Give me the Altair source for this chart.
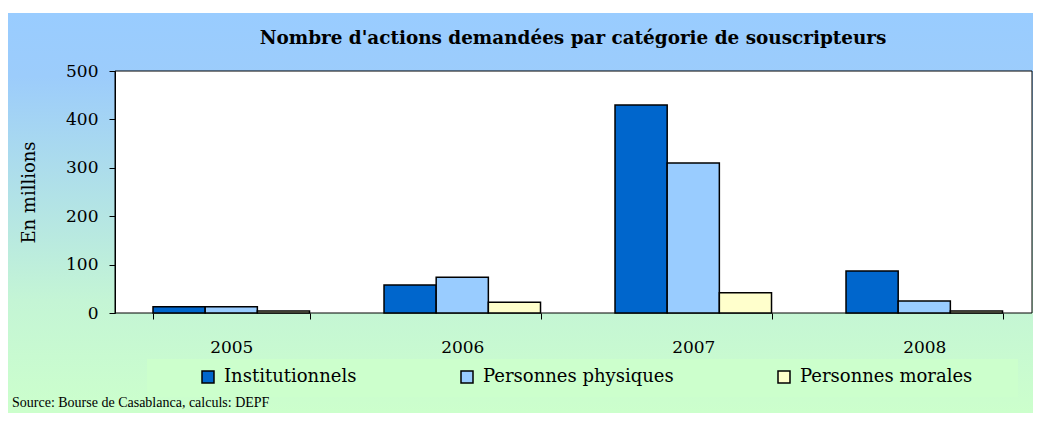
import altair as alt
import pandas as pd

# ---- data ----
years = ["2005", "2006", "2007", "2008"]
categories = ["Institutionnels", "Personnes physiques", "Personnes morales"]
institutionnels = [13, 58, 430, 87]
physiques = [13, 74, 310, 25]
morales = [4, 22, 42, 4]
colors = ["#0066CC", "#99CCFF", "#FFFFCC"]
y_ticks = [0, 100, 200, 300, 400, 500]
title_text = "Nombre d'actions demandées par catégorie de souscripteurs"
source_text = "Source: Bourse de Casablanca, calculs: DEPF"
y_title = "En millions"

rows = []
for series, vals in zip(categories, [institutionnels, physiques, morales]):
    for yr, v in zip(years, vals):
        rows.append({"year": yr, "cat": series, "value": v})
df = pd.DataFrame(rows)
one = pd.DataFrame({"k": [0]})

W, H = 918, 242
PAD = {"left": 107, "top": 63, "right": 0, "bottom": 100}
FONT = "DejaVu Serif"

gradient = alt.LinearGradient(
    gradient="linear", x1=0, x2=0, y1=0, y2=1,
    stops=[
        alt.GradientStop(offset=0, color="#99CCFF"),
        alt.GradientStop(offset=0.16, color="#9CCCFB"),
        alt.GradientStop(offset=0.72, color="#C4F5D5"),
        alt.GradientStop(offset=1, color="#CCFFCC"),
    ],
)

bg = alt.Chart(one).mark_rect(fill=gradient).encode(
    x=alt.value(-107), x2=alt.value(W + 10),
    y=alt.value(-58), y2=alt.value(H + 100),
)

legend_bg = alt.Chart(one).mark_rect(fill="#CCFFCC").encode(
    x=alt.value(32), x2=alt.value(903),
    y=alt.value(288), y2=alt.value(326),
)

frame = alt.Chart(one).mark_rect(fill="white", stroke="black", strokeWidth=1).encode(
    x=alt.value(0), x2=alt.value(W - 1),
    y=alt.value(0), y2=alt.value(H),
)

bars = alt.Chart(df).mark_bar(stroke="black", strokeWidth=1.5).encode(
    x=alt.X(
        "year:N", sort=years,
        scale=alt.Scale(paddingInner=0.3225, paddingOuter=0.14826, align=0.555),
        axis=alt.Axis(title=None, labelAngle=0, tickBand="extent", labelPadding=20,
                      labelFont=FONT, labelFontSize=17, domain=False, zindex=1),
    ),
    xOffset=alt.XOffset("cat:N", sort=categories,
                        scale=alt.Scale(paddingInner=0, paddingOuter=0)),
    y=alt.Y(
        "value:Q",
        scale=alt.Scale(domain=[0, 500], nice=False),
        axis=alt.Axis(values=y_ticks, title=y_title, labelPadding=11,
                      labelFont=FONT, labelFontSize=17,
                      titleFont=FONT, titleFontSize=18, titleFontWeight="normal",
                      titleX=-86, titleY=121, titleAngle=270,
                      titleAlign="center", titleBaseline="middle", zindex=1),
    ),
    color=alt.Color(
        "cat:N", sort=categories,
        scale=alt.Scale(domain=categories, range=colors),
        legend=alt.Legend(
            title=None, orient="none", legendX=84, legendY=297,
            direction="horizontal", columns=3, columnPadding=101,
            symbolType="square", symbolSize=144,
            symbolStrokeColor="black", symbolStrokeWidth=1.5,
            labelFont=FONT, labelFontSize=18, labelOffset=7, labelColor="black",
            labelLimit=400, zindex=1,
        ),
    ),
)

title = alt.Chart(one).mark_text(
    text=title_text, font=FONT, fontWeight="bold", fontSize=18.4,
    align="center", baseline="middle", color="black",
).encode(x=alt.value(458), y=alt.value(-33))

source = alt.Chart(one).mark_text(
    text=source_text, font="Liberation Serif", fontSize=14,
    align="left", baseline="middle", color="black",
).encode(x=alt.value(-103), y=alt.value(332))

chart = alt.layer(bg, legend_bg, frame, bars, title, source).properties(
    width=W, height=H,
    padding=PAD,
    autosize=alt.AutoSizeParams(type="none"),
).configure_view(
    stroke="transparent"
).configure_axis(
    grid=False, domainColor="black", tickColor="black", labelColor="black",
    titleColor="black", tickSize=6, domainWidth=1, tickWidth=1,
)

chart.save("out.html", embed_options={"renderer": "svg", "actions": False})
